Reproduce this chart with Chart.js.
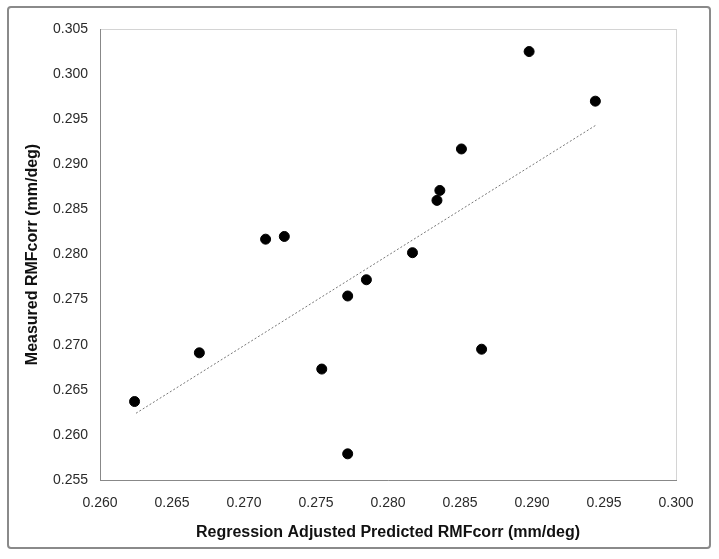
<!DOCTYPE html>
<html lang="en">
<head>
  <meta charset="UTF-8" />
  <title>Measured vs Predicted RMFcorr</title>
  <script src="https://cdn.jsdelivr.net/npm/chart.js"></script>
  <style>
    html, body { margin: 0; padding: 0; background: #fff; }
    #wrap { width: 719px; height: 559px; }
  </style>
</head>
<body>
  <div id="wrap"><canvas id="scatter" width="719" height="559"></canvas></div>

  <script>
    // predicted (x) vs measured (y) RMFcorr, mm/deg
    const predicted = [0.2624, 0.2669, 0.2715, 0.2728, 0.2754, 0.2772, 0.2772, 0.2785,
                       0.2817, 0.2834, 0.2836, 0.2851, 0.2865, 0.2898, 0.2944];
    const measured  = [0.2637, 0.2691, 0.2817, 0.2820, 0.2673, 0.2754, 0.2579, 0.2772,
                       0.2802, 0.2860, 0.2871, 0.2917, 0.2695, 0.3025, 0.2970];

    // linear trendline end points
    const trendX = [0.2625, 0.2944];
    const trendY = [0.2624, 0.2943];

    const xTicks = [0.260, 0.265, 0.270, 0.275, 0.280, 0.285, 0.290, 0.295, 0.300];
    const yTicks = [0.255, 0.260, 0.265, 0.270, 0.275, 0.280, 0.285, 0.290, 0.295, 0.300, 0.305];

    const points = predicted.map((x, i) => ({ x: x, y: measured[i] }));
    const trend = trendX.map((x, i) => ({ x: x, y: trendY[i] }));

    // outer frame + light box round the plot area
    const frames = {
      id: 'frames',
      beforeDraw(chart) {
        const c = chart.ctx;
        const a = chart.chartArea;
        c.save();
        c.strokeStyle = '#8a8a8a';
        c.lineWidth = 2;
        c.beginPath();
        c.roundRect(8, 7, 702, 541, 3);
        c.stroke();
        c.strokeStyle = '#d4d4d4';
        c.lineWidth = 1;
        c.strokeRect(a.left + 0.5, a.top + 0.5, a.right - a.left, a.bottom - a.top);
        c.restore();
      }
    };

    const tickFont = { family: 'Liberation Sans, Arial', size: 14 };
    const titleFont = { family: 'Liberation Sans, Arial', size: 16, weight: 'bold' };

    new Chart(document.getElementById('scatter').getContext('2d'), {
      type: 'scatter',
      data: {
        datasets: [
          {
            label: 'Measured',
            data: points,
            backgroundColor: '#000',
            borderColor: '#000',
            pointRadius: 5,
            pointHoverRadius: 5,
            order: 1
          },
          {
            type: 'line',
            label: 'Trend',
            data: trend,
            borderColor: '#777',
            borderWidth: 1,
            borderDash: [2, 2],
            pointRadius: 0,
            fill: false,
            order: 2
          }
        ]
      },
      options: {
        responsive: false,
        animation: false,
        layout: { padding: { top: 29, right: 43, left: 0, bottom: 0 } },
        plugins: {
          legend: { display: false },
          tooltip: { enabled: false }
        },
        scales: {
          x: {
            type: 'linear',
            min: 0.26,
            max: 0.30,
            afterFit(s) { s.height = 79; },
            afterBuildTicks(s) { s.ticks = xTicks.map(v => ({ value: v })); },
            grid: { display: false, drawOnChartArea: false, tickLength: 5, tickColor: '#888' },
            border: { display: true, color: '#888', width: 1 },
            ticks: {
              color: '#2a2a2a',
              font: tickFont,
              padding: 10,
              callback: v => v.toFixed(3)
            },
            title: {
              display: true,
              text: 'Regression Adjusted Predicted RMFcorr (mm/deg)',
              color: '#111',
              font: titleFont,
              padding: { top: 0, bottom: 17 }
            }
          },
          y: {
            type: 'linear',
            min: 0.255,
            max: 0.305,
            afterFit(s) { s.width = 100; },
            afterBuildTicks(s) { s.ticks = yTicks.map(v => ({ value: v })); },
            grid: { display: false, drawOnChartArea: false, tickLength: 5, tickColor: '#888' },
            border: { display: true, color: '#888', width: 1 },
            ticks: {
              color: '#2a2a2a',
              font: tickFont,
              padding: 7,
              callback: v => v.toFixed(3)
            },
            title: {
              display: true,
              text: 'Measured RMFcorr (mm/deg)',
              color: '#111',
              font: titleFont,
              padding: { top: 23, bottom: 0 }
            }
          }
        }
      },
      plugins: [frames]
    });
  </script>
</body>
</html>
